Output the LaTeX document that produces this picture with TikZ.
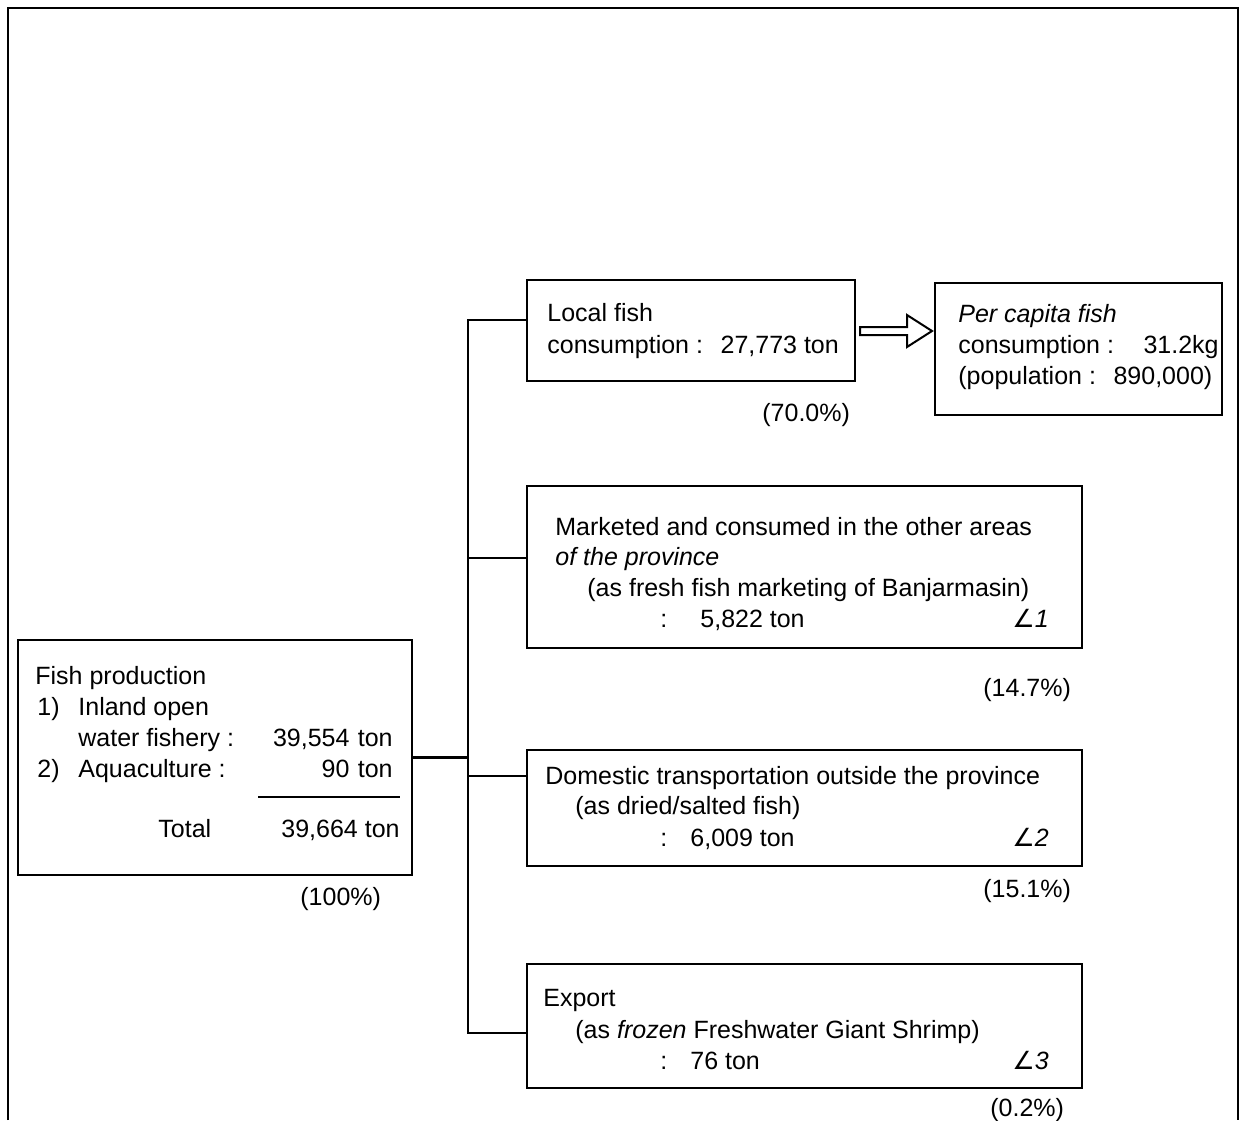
\documentclass[tikz,border=0pt]{standalone}
\usepackage{fontspec}
\setmainfont{Liberation Sans}
\newfontfamily\symfam{DejaVu Sans}
\usetikzlibrary{fit}
\begin{document}
\begin{tikzpicture}[x=0.5pt,y=-0.5pt,
  txt/.style={font=\fontsize{12.5}{15.5}\selectfont, inner sep=0pt, anchor=base west},
  txtr/.style={txt, anchor=base east},
  box/.style={draw, line width=1.2pt, rectangle, inner sep=0pt},
  conn/.style={line width=1.2pt},
  frame/.style={line width=0.8pt},
  hollow/.style={line width=1pt, line join=miter}]
\useasboundingbox (0,0) rectangle (1245,1120);
% outer frame (open at the bottom)
\draw[frame] (8,1120) -- (8,8) -- (1238,8) -- (1238,1120);

% boxes
\node[box, fit={(18,640) (412,875)}] (fish) {};
\node[box, fit={(527,280) (855,381)}] (local) {};
\node[box, fit={(935,283) (1222,415)}] (percap) {};
\node[box, fit={(527,486) (1082,648)}] (market) {};
\node[box, fit={(527,750) (1082,866)}] (domestic) {};
\node[box, fit={(527,964) (1082,1088)}] (export) {};

% fish production text
\node[txt] (f1) at (35,684) {Fish production};
\node[txt] (f2a) at (37,715) {1)};
\node[txt] (f2b) at (78,715) {Inland open};
\node[txt] (f3a) at (78,746) {water fishery :};
\node[txtr] (f3b) at (393,746) {39,554\,\,ton};
\node[txt] (f4a) at (37,777) {2)};
\node[txt] (f4b) at (78,777) {Aquaculture :};
\node[txtr] (f4c) at (393,777) {90\,\,ton};
\draw[line width=1pt] (258,797) -- (400,797);
\node[txt] (f5a) at (158,837) {Total};
\node[txtr] (f5b) at (400,837) {39,664 ton};
\node[txt] (p0) at (300,905) {(100\%)};

% local
\node[txt] (l1) at (547,321) {Local fish};
\node[txt] (l2) at (547,353) {consumption :\,\, 27,773 ton};
\node[txt] (p1) at (762,421) {(70.0\%)};

% per capita
\node[txt] (c1) at (958,322) {\itshape Per capita fish};
\node[txt] (c2) at (958,353) {consumption :};
\node[txtr] (c2b) at (1219,353) {31.2kg};
\node[txt] (c3) at (958,384) {(population :\,\, 890,000)};

% marketed
\node[txt] (m1) at (555,535) {Marketed and consumed in the other areas};
\node[txt] (m2) at (555,565) {\itshape of the province};
\node[txt] (m3) at (587,596) {(as fresh fish marketing of Banjarmasin)};
\node[txt] (m4a) at (660,627) {:};
\node[txt] (m4) at (700,627) {5,822 ton};
\node[txt] (m5) at (1012,627) {{\symfam ∠}\textit{1}};
\node[txt] (p2) at (983,696) {(14.7\%)};

% domestic
\node[txt] (d1) at (545,784) {Domestic transportation outside the province};
\node[txt] (d2) at (575,814) {(as dried/salted fish)};
\node[txt] (d3a) at (660,846) {:};
\node[txt] (d3) at (690,846) {6,009 ton};
\node[txt] (d4) at (1012,846) {{\symfam ∠}\textit{2}};
\node[txt] (p3) at (983,897) {(15.1\%)};

% export
\node[txt] (e1) at (543,1006) {Export};
\node[txt] (e2) at (575,1038) {(as \textit{frozen} Freshwater Giant Shrimp)};
\node[txt] (e3a) at (660,1069) {:};
\node[txt] (e3) at (690,1069) {76 ton};
\node[txt] (e4) at (1012,1069) {{\symfam ∠}\textit{3}};
\node[txt] (p4) at (990,1116) {(0.2\%)};

% connectors
\coordinate (t1) at (468,320);
\coordinate (t2) at (468,558);
\coordinate (t3) at (468,776);
\coordinate (t4) at (468,1033);
\draw[conn] (fish.east) -- (fish.east -| t1);
\draw[conn] (t1 -| local.west) -- (t1) -- (t4) -- (t4 -| export.west);
\draw[conn] (t2) -- (t2 -| market.west);
\draw[conn] (t3) -- (t3 -| domestic.west);

% hollow block arrow local -> per capita
\draw[hollow] (860,327) -- (907,327) -- (907,315) -- (932,331) -- (907,347) -- (907,335) -- (860,335) -- cycle;
\end{tikzpicture}
\end{document}
